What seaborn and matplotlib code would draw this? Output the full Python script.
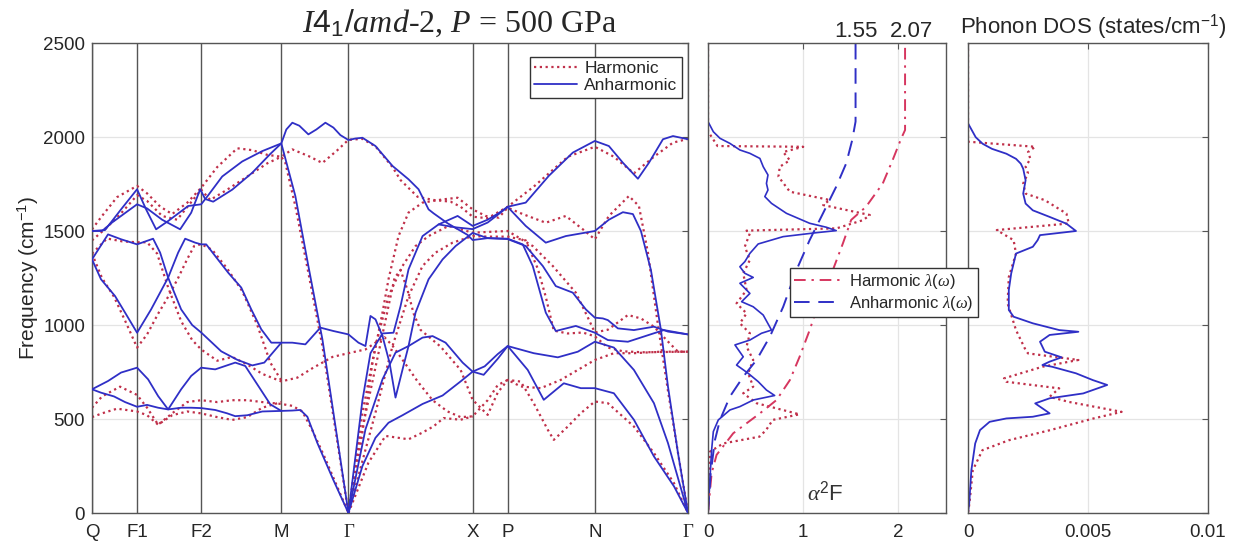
import numpy as np
import pandas as pd
import matplotlib
matplotlib.use("Agg")
import matplotlib.pyplot as plt
from matplotlib.lines import Line2D
import matplotlib.transforms as mtransforms
import seaborn as sns

# ---------------- data ----------------
kpt_labels = ["Q", "F1", "F2", "M", "Γ", "X", "P", "N", "Γ"]
kpt_pos = [0, 45, 109, 189, 256, 380, 415, 502, 595]
freq_ticks = [0, 500, 1000, 1500, 2000, 2500]

# anharmonic phonon branches (k-path coordinate, frequency cm^-1)
anh_01 = [(0,1500),(13,1505),(29,1615),(45,1722),(54,1615),(64,1509),(76,1553),(96,1633),(109,1642),(116,1690),(130,1790),(150,1870),(170,1925),(189,1966),(194,2040),(200,2076),(207,2060),(216,2014),(224,2040),(233,2076),(241,2050),(248,2010),(256,1984),(263,1992),(270,1996),(283,1952),(300,1846),(316,1775),(326,1722),(336,1615),(341,1594),(355,1541),(375,1479),(380,1452),(395,1462),(415,1457),(433,1420),(450,1314),(463,1207),(480,1172),(493,1083),(502,1039),(510,1035),(515,1026),(525,982),(541,973),(561,991),(575,965),(595,950)]
anh_02 = [(0,1500),(10,1500),(20,1545),(45,1642),(55,1620),(70,1560),(88,1509),(99,1597),(108,1722),(113,1670),(121,1656),(140,1720),(160,1810),(178,1910),(189,1966),(203,1686),(216,1314),(230,924),(243,463),(256,0)]
anh_03 = [(0,1349),(16,1482),(29,1456),(45,1429),(61,1459),(68,1385),(76,1252),(89,1083),(100,1000),(109,960),(129,860),(145,815),(160,785),(172,800),(180,850),(189,906),(200,906),(213,897),(228,986),(241,968),(256,950),(266,906),(273,888),(278,1048),(283,1030),(290,941),(297,800),(303,614),(310,763),(316,888),(323,1066),(336,1243),(350,1349),(363,1420),(380,1490),(395,1462),(415,1459),(430,1429),(440,1314),(453,1066),(463,968),(483,995),(502,959),(515,920),(535,911),(561,956),(571,973),(595,950)]
anh_04 = [(0,1349),(9,1243),(23,1154),(33,1066),(45,959),(59,1083),(76,1252),(86,1385),(93,1459),(103,1438),(109,1429),(114,1429),(123,1367),(136,1278),(149,1199),(159,1083),(169,977),(179,906),(189,906)]
anh_05 = [(0,658),(16,702),(29,747),(45,773),(56,711),(66,622),(76,551),(89,658),(99,729),(109,773),(123,764),(143,800),(153,782),(166,676),(178,578),(189,543),(200,545),(208,548),(215,512),(225,372),(241,175),(256,0)]
anh_06 = [(0,658),(9,640),(22,620),(33,590),(45,565),(55,575),(66,560),(76,551),(89,560),(99,560),(109,558),(123,548),(135,530),(143,515),(155,520),(170,540),(189,543)]
anh_07 = [(256,0),(263,300),(270,600),(278,850),(290,955),(301,959),(308,1100),(316,1296),(330,1473),(346,1535),(365,1580),(380,1527),(395,1560),(406,1595),(415,1629),(433,1651),(456,1793),(480,1917),(502,1979),(516,1952),(530,1863),(545,1778),(556,1863),(570,1988),(580,2005),(595,1988)]
anh_08 = [(256,0),(273,445),(290,711),(303,853),(316,888),(330,933),(340,941),(353,906),(370,800),(380,752),(391,735),(405,820),(415,888),(435,761),(451,602),(471,690),(488,664),(502,664),(521,637),(541,496),(561,301),(581,142),(595,0)]
anh_09 = [(256,0),(270,250),(283,400),(296,480),(310,520),(330,580),(350,625),(368,700),(380,752),(392,780),(405,845),(415,888),(441,850),(465,828),(485,858),(502,911),(521,880),(541,761),(561,584),(575,372),(595,0)]
anh_10 = [(346,1535),(362,1520),(380,1510),(395,1545),(406,1590),(415,1628),(433,1527),(453,1438),(473,1473),(502,1500),(516,1560),(530,1600),(540,1590),(548,1500),(558,1292),(568,973),(575,673),(585,319),(595,0)]

# harmonic phonon branches
har_01 = [(0,1509),(10,1580),(25,1680),(45,1740),(55,1700),(68,1630),(80,1590),(95,1650),(109,1730),(125,1840),(145,1940),(160,1930),(175,1905),(189,1895),(200,1934),(216,1899),(230,1862),(245,1930),(256,1985),(270,1990),(283,1950),(300,1840),(308,1771),(325,1682),(341,1665),(358,1656),(368,1629),(380,1576),(395,1568),(415,1629),(441,1736),(475,1895),(502,1948),(521,1895),(541,1807),(561,1895),(580,1970),(595,1990)]
har_02 = [(0,1450),(15,1520),(30,1600),(45,1690),(55,1660),(70,1580),(85,1560),(97,1640),(109,1720),(118,1665),(135,1720),(155,1790),(175,1860),(189,1895),(193,1863),(203,1633),(216,1278),(230,888),(243,445),(256,0)]
har_03 = [(0,1380),(15,1460),(30,1445),(45,1440),(55,1440),(65,1380),(76,1200),(89,1020),(100,920),(109,870),(125,810),(140,830),(155,790),(170,740),(189,700),(205,720),(220,770),(240,830),(256,850),(273,870),(283,906),(292,935),(300,890),(312,800),(325,700),(340,600),(355,540),(368,510),(380,514),(395,600),(405,680),(415,708),(428,673),(448,664),(468,708),(485,761),(502,814),(521,850),(541,850),(568,858),(595,858)]
har_04 = [(0,1380),(10,1250),(22,1150),(35,1000),(45,880),(55,950),(66,1060),(76,1150),(86,1250),(95,1350),(102,1420),(109,1430),(120,1400),(135,1300),(150,1180),(165,1000),(178,800),(189,705)]
har_05 = [(0,560),(10,620),(28,672),(45,628),(55,560),(66,470),(80,530),(95,590),(109,600),(125,590),(140,600),(155,600),(170,590),(189,580),(200,570),(210,540),(220,440),(232,300),(244,150),(256,0)]
har_06 = [(0,510),(10,530),(25,555),(45,540),(55,520),(66,470),(80,520),(95,540),(109,530),(125,510),(140,495),(155,510),(170,560),(189,590)]
har_07 = [(256,0),(268,356),(280,799),(290,1066),(296,1243),(306,1473),(316,1598),(330,1651),(350,1668),(365,1677),(380,1615),(393,1580),(406,1571),(415,1624),(430,1590),(453,1544),(473,1580),(490,1509),(502,1456),(516,1580),(536,1686),(546,1633),(555,1385),(565,1000),(575,650),(585,320),(595,0)]
har_08 = [(256,0),(270,534),(283,888),(296,1154),(310,1314),(323,1420),(336,1473),(356,1527),(380,1491),(395,1495),(415,1500),(440,1420),(460,1314),(483,1172),(495,1040),(502,960),(515,975),(535,1053),(548,1035),(561,991),(575,912),(585,858),(595,858)]
har_09 = [(256,0),(283,534),(300,888),(316,1154),(330,1314),(343,1385),(360,1438),(380,1473),(395,1470),(415,1470),(433,1450),(445,1300),(453,1150),(461,970),(475,955),(490,960),(502,940),(515,880),(530,860),(550,855),(595,858)]
har_10 = [(256,0),(266,350),(280,700),(292,1000),(302,1250),(308,1292),(315,1186),(321,1062),(328,974),(348,885),(368,761),(380,602),(395,522),(405,640),(415,708),(428,699),(441,584),(455,443),(461,389),(475,460),(488,531),(502,593),(515,584),(541,460),(561,319),(581,159),(595,0)]
har_11 = [(256,0),(276,268),(293,410),(316,392),(330,428),(341,461),(351,505),(368,496),(380,514)]

# Eliashberg function alpha^2F (value, frequency)
a2f_anh = [(0,2500),(0,2082),(0.056,2028),(0.126,1993),(0.23,1966),(0.335,1931),(0.44,1913),(0.545,1886),(0.58,1842),(0.63,1798),(0.614,1753),(0.63,1718),(0.597,1683),(0.667,1647),(0.824,1594),(1.068,1541),(1.243,1520),(1.347,1502),(1.138,1491),(0.789,1470),(0.527,1431),(0.44,1381),(0.387,1337),(0.335,1310),(0.387,1275),(0.475,1253),(0.335,1222),(0.44,1168),(0.353,1124),(0.475,1097),(0.58,1053),(0.667,973),(0.562,956),(0.44,920),(0.283,894),(0.37,831),(0.30,787),(0.422,743),(0.527,699),(0.614,654),(0.70,625),(0.475,601),(0.335,566),(0.23,548),(0.108,495),(0.056,433),(0.038,335),(0.02,176),(0,0)]
a2f_har = [(0,2500),(0,2030),(0.1,1952),(1.0,1948),(0.79,1920),(0.86,1876),(0.754,1842),(0.74,1789),(0.86,1709),(1.277,1665),(1.21,1638),(1.70,1585),(1.63,1558),(1.35,1514),(0.405,1502),(0.44,1488),(0.387,1417),(0.44,1346),(0.37,1275),(0.405,1186),(0.30,1115),(0.405,1062),(0.335,1009),(0.44,956),(0.405,885),(0.475,814),(0.422,743),(0.475,672),(0.37,637),(0.51,584),(0.96,525),(0.68,495),(0.61,441),(0.54,406),(0.16,370),(0.02,326),(0.014,158),(0,0)]
# cumulative coupling lambda(omega)
lam_anh = [(0,0),(0.028,211),(0.073,388),(0.126,495),(0.23,619),(0.37,725),(0.51,814),(0.65,938),(0.79,1097),(0.93,1293),(1.068,1452),(1.208,1594),(1.347,1736),(1.452,1860),(1.515,1984),(1.55,2082),(1.55,2500)]
lam_har = [(0,0),(0.038,211),(0.09,309),(0.265,424),(0.545,530),(0.72,601),(0.86,707),(0.963,832),(1.068,973),(1.173,1133),(1.312,1293),(1.417,1434),(1.504,1559),(1.66,1629),(1.836,1753),(1.94,1878),(2.03,1993),(2.07,2037),(2.07,2500)]
lam_final = [1.55, 2.07]
a2f_ticks = [0, 1, 2]

# phonon DOS (states/cm^-1, frequency)
dos_anh = [(0,2500),(0,2073),(0.00032,1999),(0.00061,1964),(0.0010,1937),(0.0016,1911),(0.0020,1884),(0.0022,1858),(0.0023,1831),(0.0024,1770),(0.0023,1699),(0.0024,1646),(0.0027,1610),(0.0034,1575),(0.0041,1539),(0.0045,1500),(0.0030,1478),(0.0029,1451),(0.0027,1416),(0.0020,1380),(0.0019,1327),(0.0018,1274),(0.0017,1186),(0.0017,1080),(0.0019,1044),(0.0027,1009),(0.0038,973),(0.0046,964),(0.0034,947),(0.0030,911),(0.0032,858),(0.0039,828),(0.0034,805),(0.0031,787),(0.0035,778),(0.0045,743),(0.0052,707),(0.0058,681),(0.0048,636),(0.0034,610),(0.0028,583),(0.0032,548),(0.0034,530),(0.0027,512),(0.0016,503),(0.0009,485),(0.0005,441),(0.0003,370),(0.00014,228),(0.00005,51),(0,0)]
dos_har = [(0,2500),(0,1975),(0.0028,1948),(0.0025,1920),(0.0026,1884),(0.0024,1842),(0.0025,1807),(0.0023,1753),(0.0024,1699),(0.0032,1664),(0.0041,1593),(0.0042,1540),(0.0012,1505),(0.0019,1451),(0.0020,1380),(0.0017,1255),(0.00165,1115),(0.0020,973),(0.0024,867),(0.0025,849),(0.0046,814),(0.0031,778),(0.0015,716),(0.0016,698),(0.0038,663),(0.0034,618),(0.0042,591),(0.0064,538),(0.0052,502),(0.0034,440),(0.0017,387),(0.0006,334),(0.0002,228),(0.00006,51),(0,0)]
dos_ticks = [0, 0.005, 0.01]
dos_ticklabels = ["0", "0.005", "0.01"]

# ---------------- style ----------------
BLUE = "#2f2fc6"
RED = "#c0304a"
RED_DD = "#d6365f"
GREY = "#555555"
GRID = "#e4e4e4"
DOT = (0, (1, 1.6))

sns.set_style("white")
plt.rcParams["font.family"] = ["Liberation Sans", "DejaVu Sans"]
plt.rcParams["mathtext.fontset"] = "custom"
plt.rcParams["mathtext.rm"] = "Liberation Sans"
plt.rcParams["mathtext.it"] = "Liberation Serif:italic"
plt.rcParams["mathtext.bf"] = "Liberation Sans:bold"

W, H = 1236, 545
fig = plt.figure(figsize=(W / 100, H / 100), dpi=100)
ax1 = fig.add_axes([92 / W, 32 / H, 596 / W, 470 / H])
ax3 = fig.add_axes([968 / W, 32 / H, 240 / W, 470 / H])
ax2 = fig.add_axes([708 / W, 32 / H, 238 / W, 470 / H])


def curves_frame(curves, name):
    rows = []
    for i, c in enumerate(curves):
        for k, f in c:
            rows.append((f"{name}{i}", k, f))
    return pd.DataFrame(rows, columns=["curve", "k", "freq"])


def xy_frame(pairs):
    return pd.DataFrame(pairs, columns=["x", "freq"])


df_har = curves_frame([har_01, har_02, har_03, har_04, har_05, har_06, har_07,
                       har_08, har_09, har_10, har_11], "har")
df_anh = curves_frame([anh_01, anh_02, anh_03, anh_04, anh_05, anh_06, anh_07,
                       anh_08, anh_09, anh_10], "anh")

# ---- band structure ----
for k in kpt_pos:
    ax1.axvline(k, color=GREY, lw=1.0, zorder=1)
sns.lineplot(data=df_har, x="k", y="freq", units="curve", estimator=None, sort=False,
             color=RED, lw=1.6, linestyle=DOT, ax=ax1, legend=False, zorder=2)
sns.lineplot(data=df_anh, x="k", y="freq", units="curve", estimator=None, sort=False,
             color=BLUE, lw=1.3, ax=ax1, legend=False, zorder=3)
ax1.set_xlim(kpt_pos[0], kpt_pos[-1])
ax1.set_ylim(0, 2500)
ax1.set_xticks(kpt_pos)
ax1.set_xticklabels(kpt_labels)
for t in ax1.get_xticklabels():
    if t.get_text() == "Γ":
        t.set_fontfamily("Liberation Serif")
        t.set_fontsize(15)
ax1.set_yticks(freq_ticks)
ax1.yaxis.grid(True, color=GRID, lw=0.9)
ax1.set_xlabel("")
ax1.set_ylabel("Frequency (cm$^{-1}$)", fontsize=15)
ax1.yaxis.set_label_coords(-0.085, 0.5)
ax1.tick_params(axis="x", length=0, pad=8, labelsize=13.5)
ax1.tick_params(axis="y", direction="in", length=4, color=GREY, labelsize=13.5,
                right=True, pad=5)

leg1 = ax1.legend(handles=[Line2D([], [], color=RED, lw=1.6, linestyle=DOT),
                           Line2D([], [], color=BLUE, lw=1.3)],
                  labels=["Harmonic", "Anharmonic"], loc="upper right",
                  bbox_to_anchor=((682 - 92) / 596, (513 - 57) / 470),
                  fontsize=12.5, frameon=True, fancybox=False, framealpha=1,
                  edgecolor="#333333", borderpad=0.25, labelspacing=0.1,
                  handlelength=2.5, handletextpad=0.4, borderaxespad=0)
leg1.get_frame().set_linewidth(1.0)

# ---- alpha^2F + lambda ----
sns.lineplot(data=xy_frame(a2f_har), x="x", y="freq", estimator=None, sort=False,
             color=RED, lw=1.6, linestyle=DOT, ax=ax2, legend=False)
sns.lineplot(data=xy_frame(a2f_anh), x="x", y="freq", estimator=None, sort=False,
             color=BLUE, lw=1.2, ax=ax2, legend=False)
sns.lineplot(data=xy_frame(lam_har), x="x", y="freq", estimator=None, sort=False,
             color=RED_DD, lw=1.4, linestyle=(0, (6, 3, 1.2, 3)), ax=ax2, legend=False)
sns.lineplot(data=xy_frame(lam_anh), x="x", y="freq", estimator=None, sort=False,
             color=BLUE, lw=1.4, linestyle=(0, (8, 4.5)), ax=ax2, legend=False)
ax2.set_xlim(0, 2.5)
ax2.set_ylim(0, 2500)
ax2.set_xticks(a2f_ticks)
ax2.set_xticklabels([str(v) for v in a2f_ticks])
ax2.set_yticks(freq_ticks)
ax2.set_yticklabels([])
ax2.grid(True, color=GRID, lw=0.9)
ax2.set_xlabel("")
ax2.set_ylabel("")
ax2.tick_params(axis="both", direction="in", length=4, color=GREY, labelsize=13.5,
                right=True, top=True, pad=5)
ax2.tick_params(axis="x", pad=8)
trans2 = mtransforms.blended_transform_factory(ax2.transData, ax2.transAxes)
label_shift = [0, 6]
for v, dx in zip(lam_final, label_shift):
    tr = mtransforms.offset_copy(trans2, fig=fig, x=dx, y=0, units="dots")
    ax2.text(v, 1.012, f"{v:.2f}", transform=tr, ha="center", va="baseline",
             fontsize=16)
ax2.text(1.23, 69, r"$\alpha^2$F", ha="center", va="baseline", fontsize=16,
         color="#333333")

fig.legend(handles=[Line2D([], [], color=RED_DD, lw=1.4, linestyle=(0, (6, 3, 1.2, 3))),
                    Line2D([], [], color=BLUE, lw=1.4, linestyle=(0, (8, 4.5)))],
           labels=[r"Harmonic $\lambda(\omega)$", r"Anharmonic $\lambda(\omega)$"],
           loc="upper right", bbox_to_anchor=(978 / W, (H - 268) / H),
           fontsize=12, frameon=True, fancybox=False, framealpha=1,
           edgecolor="#333333", borderpad=0.25, labelspacing=0.15,
           handlelength=2.8, handletextpad=0.5, borderaxespad=0)

# ---- phonon DOS ----
sns.lineplot(data=xy_frame(dos_har), x="x", y="freq", estimator=None, sort=False,
             color=RED, lw=1.6, linestyle=DOT, ax=ax3, legend=False)
sns.lineplot(data=xy_frame(dos_anh), x="x", y="freq", estimator=None, sort=False,
             color=BLUE, lw=1.3, ax=ax3, legend=False)
ax3.set_xlim(0, 0.01)
ax3.set_ylim(0, 2500)
ax3.set_xticks(dos_ticks)
ax3.set_xticklabels(dos_ticklabels)
ax3.set_yticks(freq_ticks)
ax3.set_yticklabels([])
ax3.grid(True, color=GRID, lw=0.9)
ax3.set_xlabel("")
ax3.set_ylabel("")
ax3.tick_params(axis="both", direction="in", length=4, color=GREY, labelsize=13.5,
                right=True, top=True, pad=5)
ax3.tick_params(axis="x", pad=8)

for ax in (ax1, ax2, ax3):
    for sp in ax.spines.values():
        sp.set_color(GREY)
        sp.set_linewidth(1.0)
        sp.set_visible(True)

fig.text(460 / W, (H - 32) / H, r"$\mathit{I4_{1}/amd}$-2, $\mathit{P}$ = 500 GPa",
         ha="center", va="baseline", fontsize=23, family="Liberation Serif")
fig.text(1093 / W, (H - 33) / H, "Phonon DOS (states/cm$^{-1}$)", ha="center",
         va="baseline", fontsize=16)

fig.savefig("out.png", dpi=100)
